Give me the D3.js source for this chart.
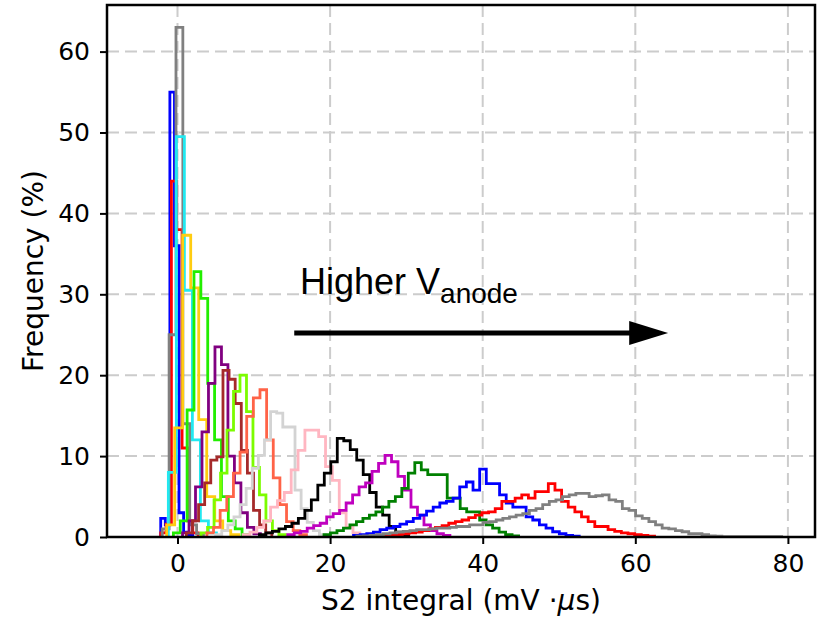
<!DOCTYPE html>
<html>
<head>
<meta charset="utf-8">
<script src="https://cdn.jsdelivr.net/npm/d3@7/dist/d3.min.js"></script>
<style>
  html, body { margin: 0; padding: 0; background: #ffffff; }
  svg { display: block; }
</style>
</head>
<body>
<svg id="chart" width="821" height="618"></svg>
<script>
// ---------------- DATA ----------------
const xTicks = [0, 20, 40, 60, 80];
const yTicks = [0, 10, 20, 30, 40, 50, 60];
const xDomain = [-9.24, 83.55];
const yDomain = [0, 65.76];

// first bin edge of each histogram (mV·µs)
const binStart = [-2.2, -2.2, -2.0, -1.2, -1.42, -0.54, 0.66, 1.16, 3.09, 3.85, 5.0, 8.6, 10.74, 14.45, 19.2, 23.07, 26.85, 23.5];
// bin width of each histogram (mV·µs)
const binWidth = [0.6, 0.7, 0.9, 1.05, 1.05, 0.9, 0.85, 0.8, 0.85, 0.87, 0.8, 0.9, 0.85, 0.85, 0.85, 0.87, 0.87, 0.87];

// frequencies (%) per bin
const h01 = [2.3, 1.5, 55, 36, 3, 0.6, 0.2];
const h02 = [0.5, 1.6, 44, 38, 11, 2, 0.5];
const h03 = [1, 25, 63, 14, 1.5, 0.4];
const h04 = [8, 49.5, 30.5, 12, 2, 0.5];
const h05 = [1.5, 13.5, 37.3, 30.8, 14.5, 5, 2, 0.8, 0.3];
const h06 = [0.5, 2, 15.7, 32.8, 29.5, 19, 12, 5, 2, 1, 0.3];
const h07 = [0.5, 2, 6.2, 13, 19, 23.5, 21.3, 10, 6.7, 3, 1.2, 0.4];
const h08 = [0.5, 2, 4, 6.7, 9.5, 9.9, 20.6, 19.5, 16.5, 10.7, 7.9, 3.3, 1.5, 0.5];
const h09 = [0.5, 1.2, 4.6, 7.9, 13.2, 18, 20, 15.5, 8.6, 5.2, 2, 0.8, 0.3];
const h10 = [0.5, 1.2, 3.3, 5, 7.9, 10.5, 14.9, 17.2, 18.2, 12, 7.3, 4, 1.9, 0.8, 0.3];
const h11 = [0.3, 0.8, 1.5, 2.5, 4, 6, 8.5, 10.1, 12, 15.5, 15.3, 13.6, 13.6, 5.8, 3.5, 1.8, 0.8, 0.3];
const h12 = [0.3, 0.6, 1.2, 2, 3.7, 4.5, 5.5, 8.3, 10.7, 13.2, 13.2, 12.4, 8.7, 7, 3, 1.2, 0.5];
const h13 = [0.3, 0.5, 0.7, 1.0, 1.3, 1.7, 2.3, 3.3, 4.6, 6.4, 7.9, 9.3, 12.2, 11.9, 10.8, 9.5, 7.7, 5.5, 3.7, 2.7, 1.3, 0.6, 0.3];
const h14 = [0.3, 0.5, 0.7, 1.1, 1.4, 1.7, 2.5, 2.9, 3.3, 4.2, 5.2, 6.2, 6.7, 8.1, 9.1, 10.1, 9.3, 7.5, 5.8, 3.7, 2.7, 1.5, 0.8, 0.4, 0.2];
const h15 = [0.3, 0.5, 0.8, 1.1, 1.5, 1.9, 2.3, 2.7, 3.1, 3.7, 4.4, 5, 6, 7.9, 9.2, 8.3, 7.7, 7.7, 7.7, 4.8, 4.8, 3.5, 3.1, 3.1, 2.1, 1.5, 1.1, 0.6, 0.3, 0.15];
const h16 = [0.2, 0.3, 0.4, 0.6, 0.9, 1.1, 1.3, 1.6, 1.9, 2.3, 2.7, 3.2, 3.7, 4.2, 4.4, 4.8, 6.2, 6.8, 5.8, 8.4, 6.6, 6.6, 5.2, 4.2, 3.7, 3.7, 2.5, 2.1, 1.5, 1.1, 0.65, 0.4, 0.2, 0.1];
const h17 = [0.1, 0.2, 0.3, 0.4, 0.5, 0.6, 0.8, 1.0, 1.2, 1.4, 1.7, 1.9, 2.1, 2.4, 2.7, 3.0, 3.1, 3.5, 4.4, 4.4, 4.8, 5.2, 4.8, 5.6, 5.6, 6.6, 5.8, 4.4, 3.7, 3.1, 2.5, 1.9, 1.3, 1.3, 0.9, 0.7, 0.5, 0.4, 0.3, 0.2, 0.1];
const h18 = [0.1, 0.15, 0.2, 0.3, 0.4, 0.5, 0.6, 0.7, 0.8, 0.9, 0.9, 1.0, 1.1, 1.1, 1.2, 1.3, 1.3, 1.5, 1.5, 1.8, 1.9, 2.1, 2.3, 2.5, 2.7, 2.9, 3.3, 3.5, 4.0, 4.4, 4.6, 5.0, 5.2, 5.4, 5.4, 5.0, 5.1, 5.2, 4.6, 4.4, 3.5, 3.3, 2.6, 2.3, 1.9, 1.5, 1.1, 1.0, 0.8, 0.65, 0.4, 0.4, 0.3, 0.15, 0.1, 0.05, 0.05, 0.05, 0.03, 0.03, 0.03, 0.03, 0.03, 0.03];

const histograms = [h01, h02, h03, h04, h05, h06, h07, h08, h09, h10, h11, h12, h13, h14, h15, h16, h17, h18];

const xLabel = "S2 integral (mV \u00B7";
const yLabel = "Frequency (%)";
const annotationMain = "Higher V";
const annotationSub = "anode";

// ---------------- STYLE ----------------
const seriesColors = ["#0000ff", "#ff0000", "#808080", "#22e8f0", "#ffcc11", "#22ee00", "#800080", "#a52a2a",
                      "#7cfc00", "#ff6347", "#d3d3d3", "#ffb6c1", "#000000", "#bf00bf", "#008000", "#0000ff", "#ff0000", "#808080"];

const W = 821, H = 618;
const margin = { left: 107, top: 5, right: 6, bottom: 81 };
const plotW = W - margin.left - margin.right;
const plotH = H - margin.top - margin.bottom;

const svg = d3.select("#chart");
const x = d3.scaleLinear().domain(xDomain).range([margin.left, margin.left + plotW]);
const y = d3.scaleLinear().domain(yDomain).range([margin.top + plotH, margin.top]);

svg.append("defs").append("clipPath").attr("id", "clip")
  .append("rect").attr("x", margin.left).attr("y", margin.top).attr("width", plotW).attr("height", plotH);

// grid
const grid = svg.append("g").attr("stroke", "#cccccc").attr("stroke-width", 2).attr("stroke-dasharray", "12,6");
grid.selectAll("line.gx").data(xTicks).join("line")
  .attr("x1", d => x(d)).attr("x2", d => x(d)).attr("y1", margin.top).attr("y2", margin.top + plotH);
grid.selectAll("line.gy").data(yTicks).join("line")
  .attr("x1", margin.left).attr("x2", margin.left + plotW).attr("y1", d => y(d)).attr("y2", d => y(d));

// histograms
const line = d3.line().x(d => x(d[0])).y(d => y(d[1]));
const hg = svg.append("g").attr("clip-path", "url(#clip)");
histograms.forEach((vals, k) => {
  const s = binStart[k], w = binWidth[k];
  const pts = [[s, 0]];
  vals.forEach((v, i) => { pts.push([s + i * w, v]); pts.push([s + (i + 1) * w, v]); });
  pts.push([s + vals.length * w, 0]);
  hg.append("path").attr("d", line(pts)).attr("fill", "none")
    .attr("stroke", seriesColors[k]).attr("stroke-width", 2.8).attr("stroke-linejoin", "miter");
});

// axes
const fontTicks = "'DejaVu Sans', sans-serif";
const xAxis = d3.axisBottom(x).tickValues(xTicks).tickSize(7).tickPadding(10).tickFormat(d3.format("d"));
const yAxis = d3.axisLeft(y).tickValues(yTicks).tickSize(7).tickPadding(10).tickFormat(d3.format("d"));
const gx = svg.append("g").attr("transform", `translate(0,${margin.top + plotH})`).call(xAxis);
const gy = svg.append("g").attr("transform", `translate(${margin.left},0)`).call(yAxis);
[gx, gy].forEach(g => {
  g.select(".domain").remove();
  g.selectAll(".tick line").attr("stroke", "#000").attr("stroke-width", 2);
  g.selectAll(".tick text").attr("font-family", fontTicks).attr("font-size", 25).attr("fill", "#000");
});

// frame
svg.append("rect").attr("x", margin.left).attr("y", margin.top).attr("width", plotW).attr("height", plotH)
  .attr("fill", "none").attr("stroke", "#000").attr("stroke-width", 2.5);

// axis labels
const xl = svg.append("text").attr("x", margin.left + plotW / 2).attr("y", 610)
  .attr("text-anchor", "middle").attr("font-family", fontTicks).attr("font-size", 28).attr("fill", "#000");
xl.append("tspan").text(xLabel);
xl.append("tspan").attr("font-style", "italic").text("\u03BC");
xl.append("tspan").text("s)");

svg.append("text").attr("transform", `translate(43,${margin.top + plotH / 2}) rotate(-90)`)
  .attr("text-anchor", "middle").attr("font-family", fontTicks).attr("font-size", 28).attr("fill", "#000")
  .text(yLabel);

// annotation
const at = svg.append("text").attr("x", 300).attr("y", 294)
  .attr("font-family", "'Liberation Sans', Arial, sans-serif").attr("font-size", 36).attr("fill", "#000");
at.append("tspan").text(annotationMain);
at.append("tspan").attr("font-size", 28).attr("dy", 9).text(annotationSub);

// arrow
const arrowY = 333;
svg.append("line").attr("x1", x(15.3)).attr("x2", x(59.5)).attr("y1", arrowY).attr("y2", arrowY)
  .attr("stroke", "#000").attr("stroke-width", 5);
svg.append("path")
  .attr("d", `M${x(59.2)},${arrowY - 12} L${x(64.3)},${arrowY} L${x(59.2)},${arrowY + 12} Z`)
  .attr("fill", "#000");
</script>
</body>
</html>
